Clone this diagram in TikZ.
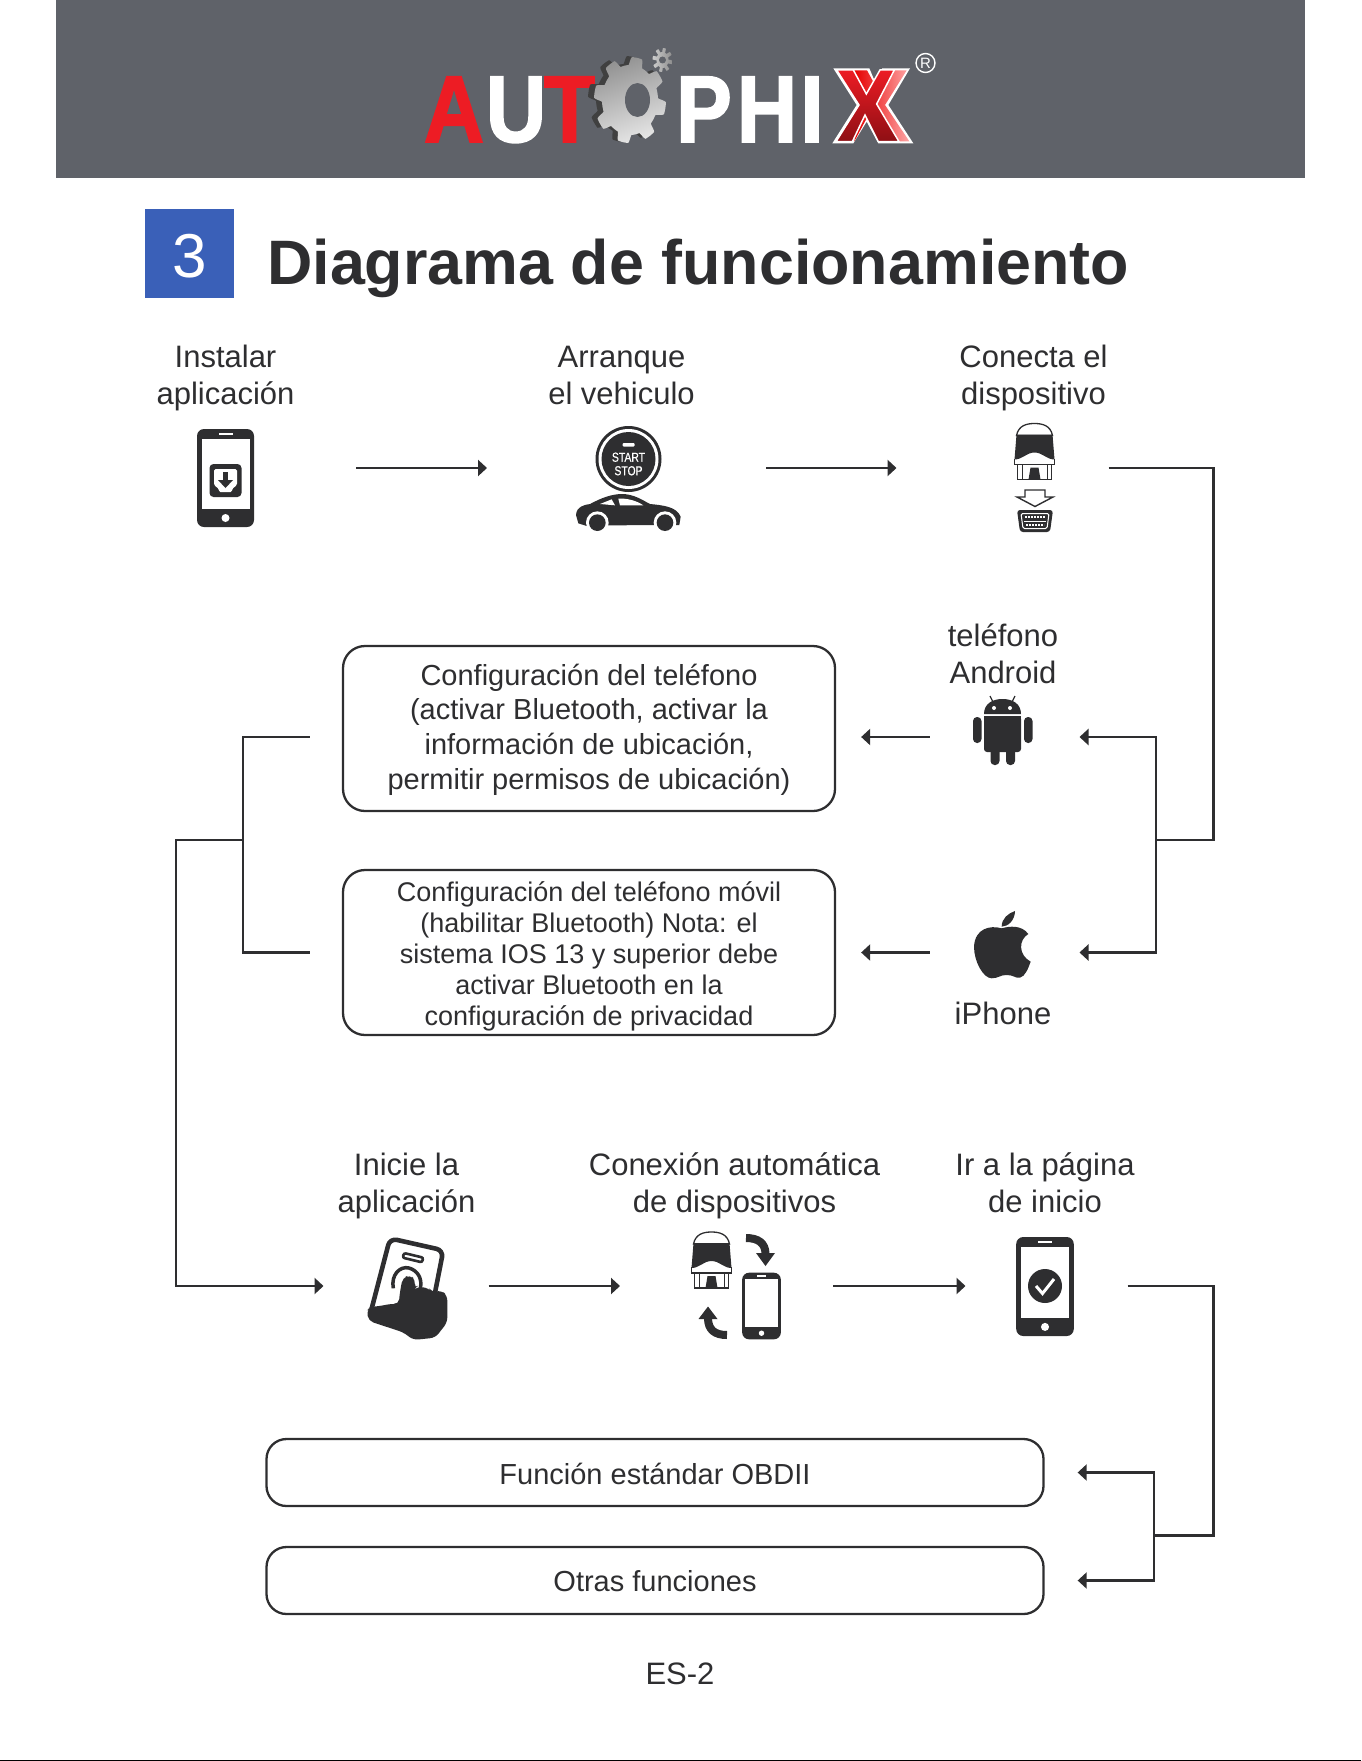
\documentclass[tikz,border=0pt]{standalone}
\usepackage{fontspec}
\setmainfont{Liberation Sans}
\newfontfamily\logofont[FakeStretch=0.88,FakeBold=1.6]{Liberation Sans}
\newfontfamily\narrowfont[FakeStretch=0.8,FakeBold=0.6]{Liberation Sans}
\usetikzlibrary{arrows.meta,calc}
\definecolor{ink}{HTML}{2E2E30}
\definecolor{headergray}{HTML}{5F6269}
\definecolor{squareblue}{HTML}{3A60B8}
\definecolor{logored}{HTML}{ED1C24}
\definecolor{darkred}{HTML}{8E0F14}
\begin{document}
\begin{tikzpicture}[
    x=1pt, y=-1pt,
    caption/.style={align=center, text=ink, inner sep=0, font=\fontsize{31}{37}\selectfont},
    roundbox/.style={rectangle, rounded corners=22pt, draw=ink, line width=2.3pt, align=center,
                     text=ink, inner sep=0, minimum width=492pt, minimum height=165pt},
    wide/.style={roundbox, rounded corners=20pt, minimum width=777pt, minimum height=67pt,
                 font=\fontsize{29}{35}\selectfont},
    slot/.style={rectangle, inner sep=0, outer sep=0, minimum height=30pt},
    wire/.style={draw=ink, line width=2.4pt},
    arrow/.style={wire, -{Triangle[length=9pt,width=16pt]}},
    logoletter/.style={anchor=base, inner sep=0, font=\logofont\bfseries\fontsize{95}{95}\selectfont},
    phone/.pic={
        \fill[ink, rounded corners=7pt] (-28.5,-49) rectangle (28.5,49);
        \fill[white] (-24,-39) rectangle (24,31);
        \fill[white] (-7,-45) rectangle (7,-43);
        \fill[white] (0,40) circle (4);
    },
    dongle/.pic={
        \filldraw[fill=white, draw=ink, line width=1.3pt] (-18,-16) .. controls (-16,-26) and (-8,-28) .. (0,-28)
            .. controls (8,-28) and (16,-26) .. (18,-16) -- cycle;
        \fill[ink] (-18,-17) -- (18,-17) -- (20,8) .. controls (12,8) and (8,1) .. (0,1)
            .. controls (-8,1) and (-12,8) .. (-20,8) -- cycle;
        \draw[ink, line width=1.3pt] (-20,7) -- (-20,13) -- (20,13) -- (20,7);
        \draw[ink, line width=1.3pt] (-17,13) -- (-17,28) -- (17,28) -- (17,13);
        \draw[ink, line width=1pt] (-12.5,13) -- (-12.5,28) (12.5,13) -- (12.5,28);
        \fill[ink] (-4,16) -- (4,16) -- (6,28) -- (-6,28) -- cycle;
    },
]
\useasboundingbox (0,0) rectangle (1361,1761);

% Cabecera
\fill[headergray] (56,0) rectangle (1305,178);
\node[logoletter, text=logored] (logoA) at (454,142) {A};
\node[logoletter, text=white] (logoU) at (516,142) {U};
\node[logoletter, text=logored] (logoT) at (569.5,142) {T};
\node[logoletter, text=white] (logoP) at (704,142) {P};
\node[logoletter, text=white] (logoH) at (767,142) {H};
\node[logoletter, text=white] (logoI) at (812,142) {I};

% Engranajes
\fill[black!75] plot[domain=0:360, samples=241, variable=\t]
    ({625+cos(\t)*(33+4*max(-1,min(1,3*sin(8*\t))))}, {99+sin(\t)*(39+4*max(-1,min(1,3*sin(8*\t))))}) -- cycle;
\shade[left color=gray!85, right color=white!90!black, shading angle=20] plot[domain=0:360, samples=241, variable=\t]
    ({630+cos(\t)*(32+4*max(-1,min(1,3*sin(8*\t))))}, {100+sin(\t)*(39+4*max(-1,min(1,3*sin(8*\t))))}) -- cycle;
\fill[headergray] (637.5,100) ellipse (12.5 and 17);
\shade[left color=gray!40, right color=gray!90] plot[domain=0:360, samples=145, variable=\t]
    ({662.5+cos(\t)*(8+2*max(-1,min(1,3*sin(8*\t))))}, {60+sin(\t)*(10+2*max(-1,min(1,3*sin(8*\t))))}) -- cycle;
\fill[headergray] (662.5,60) circle (3.5);

% X del logotipo
\begin{scope}[shift={(825,50)}, x=0.3333pt, y=-0.3333pt]
    \fill[white] (25,55) -- (133,55) -- (150,95) -- (172,55) -- (255,55) -- (190,165) -- (265,280)
        -- (160,280) -- (125,215) -- (85,280) -- (22,280) -- (95,165) -- cycle;
    \shade[left color=red!90!black, right color=red!35!white] (88,61) -- (126,61) -- (150,105) -- (178,61) -- (245,61) -- (180,165) -- (253,274)
        -- (165,274) -- (125,205) -- (88,274) -- (100,165) -- cycle;
    \shade[top color=logored, bottom color=darkred, draw=white, line width=1.5pt]
        (35,60) -- (85,60) -- (124,132) -- (165,60) -- (208,60) -- (155,162) -- (222,275) -- (160,275)
        -- (120,195) -- (82,275) -- (33,275) -- (102,165) -- cycle;
\end{scope}
\node[circle, draw=white, line width=1.4pt, text=white, inner sep=0, minimum size=19pt,
      font=\fontsize{15}{15}\selectfont] (regmark) at (925.5,63) {R};

% Titulo
\node[fill=squareblue, text=white, inner sep=0, minimum size=89pt] (num) at (189.5,253.5) {};
\node[text=white, inner sep=0, font=\fontsize{62}{62}\selectfont] (numtext) at (189.5,256) {3};
\node[anchor=base west, inner sep=0, text=ink,
      font=\bfseries\fontsize{62.8}{62.8}\selectfont] (title) at (267,284) {Diagrama de funcionamiento};

% Fila superior
\node[caption] (capinstall) at (225.5,378) {Instalar\\aplicación};
\node[caption] (capstart) at (621.5,375.5) {Arranque\\el vehiculo};
\node[caption] (capdevice) at (1033.5,378) {Conecta el\\dispositivo};
\node[slot, minimum width=206pt] (install) at (253,468) {};
\node[slot, minimum width=279pt] (start) at (626.5,468) {};
\node[slot, minimum width=212pt] (device) at (1002.5,468) {};

% Icono de instalar
\pic at (225.5,478) {phone};
\fill[ink, rounded corners=4pt] (209.5,464) rectangle (241.5,497);
\fill[white, rounded corners=1.5pt] (214,469) -- (237,469) -- (237,485) -- (232,489) -- (232,492) -- (219,492)
    -- (219,489) -- (214,485) -- cycle;
\fill[ink] (223,472) rectangle (228,481);
\fill[ink] (218,480) -- (233,480) -- (225.5,488) -- cycle;

% Icono de arranque
\fill[ink] (628.5,459) circle (33);
\fill[white] (628.5,459) circle (30);
\fill[ink] (628.5,459) circle (27);
\fill[white, rounded corners=1pt] (622.5,443) rectangle (634.5,446.5);
\node[text=white, align=center, inner sep=0, font=\narrowfont\fontsize{13}{13.5}\selectfont] (startstop) at (628.5,464) {START\\STOP};
\begin{scope}[shift={(570,490)}, x=0.3333pt, y=-0.3333pt]
    \fill[ink] (18,75) .. controls (20,50) and (40,45) .. (60,42) .. controls (80,32) and (110,15) .. (150,12)
        .. controls (190,10) and (220,32) .. (240,42) .. controls (280,46) and (320,50) .. (332,80)
        -- (328,105) -- (115,106) -- (50,108) -- (25,100) -- cycle;
    \fill[white] (90,42) -- (125,28) -- (135,46) -- cycle;
    \fill[white] (145,26) .. controls (170,24) and (200,32) .. (220,46) -- (150,46) -- cycle;
    \foreach \wx in {82,285} {
        \fill[white] (\wx,98) circle (34);
        \fill[ink] (\wx,98) circle (25);
    }
\end{scope}

% Icono del dispositivo
\pic at (1034.5,451.5) {dongle};
\draw[ink, line width=1.4pt, fill=white] (1025,490) -- (1045,490) -- (1045,497) -- (1053,497) -- (1035,506.5)
    -- (1017,497) -- (1025,497) -- cycle;
\fill[ink, rounded corners=3pt] (1017,510) -- (1053,510) -- (1050,532) -- (1020,532) -- cycle;
\draw[white, line width=1pt, rounded corners=1.5pt] (1021,513.5) -- (1049,513.5) -- (1047,528.5) -- (1023,528.5) -- cycle;
\draw[white, line width=1.2pt, dash pattern=on 2pt off 1pt] (1025,517) -- (1045,517) (1026,525) -- (1044,525);
\draw[white, line width=1pt] (1024,521) -- (1046,521);

% Fila de Android y iPhone
\node[caption] (capandroid) at (1003,653.5) {teléfono\\Android};
\node[caption] (capiphone) at (1003,1013) {iPhone};
\node[slot, minimum width=150pt] (android) at (1004.5,737) {};
\node[slot, minimum width=150pt] (iphone) at (1004.5,952.5) {};
\node[roundbox, font=\fontsize{29}{34.8}\selectfont] (cfgandroid) at (589,728.5)
    {\rule{0pt}{23.6pt}Configuración del teléfono\\(activar Bluetooth, activar la\\información de ubicación,\\permitir permisos de ubicación)};
\node[roundbox, font=\fontsize{27}{31}\selectfont] (cfgiphone) at (589,952.5)
    {\rule{0pt}{28pt}Configuración del teléfono móvil\\(habilitar Bluetooth) Nota: el\\sistema IOS 13 y superior debe\\activar Bluetooth en la\\configuración de privacidad};

% Icono de Android
\fill[ink] (984,714) .. controls (984,704) and (992,699) .. (1002.5,699) .. controls (1013,699) and (1021,704) .. (1021,714) -- cycle;
\fill[ink, rounded corners=3pt] (984,716) rectangle (1021,752);
\fill[ink] (984,716) rectangle (1021,730);
\draw[ink, line width=1.2pt] (993,702) -- (990,696) (1012,702) -- (1015,696);
\fill[white] (994,708) circle (2) (1010,708) circle (2);
\foreach \ax in {973,1024} { \fill[ink, rounded corners=4pt] (\ax,717) rectangle ++(8.5,26); }
\foreach \lx in {990.5,1006} { \fill[ink, rounded corners=4pt] (\lx,745) rectangle ++(9,20); }

% Icono de Apple
\begin{scope}[shift={(900,680)}, x=0.3333pt, y=-0.3333pt]
    \fill[ink] (305,745) .. controls (270,735) and (225,745) .. (222,800) .. controls (222,845) and (250,895) .. (275,895)
        .. controls (295,895) and (300,885) .. (320,885) .. controls (340,885) and (345,895) .. (360,893)
        .. controls (375,890) and (385,865) .. (392,845) .. controls (355,825) and (355,780) .. (385,762)
        .. controls (365,735) and (330,738) .. (305,745) -- cycle;
    \fill[ink] (305,740) .. controls (305,715) and (325,700) .. (345,693) .. controls (345,720) and (325,740) .. (305,740) -- cycle;
\end{scope}

% Fila inferior
\node[caption] (caplaunch) at (406.5,1185.5) {Inicie la\\aplicación};
\node[caption] (capconnect) at (734.5,1185.5) {Conexión automática\\de dispositivos};
\node[caption] (caphome) at (1045,1183) {Ir a la página\\de inicio};
\node[slot, minimum width=165pt] (launch) at (406,1286) {};
\node[slot, minimum width=213pt] (connect) at (726.5,1286) {};
\node[slot, minimum width=162pt] (home) at (1046.5,1286) {};

% Icono de iniciar
\begin{scope}[shift={(360,1225)}, x=0.3333pt, y=-0.3333pt]
    \draw[ink, line width=4.6pt, fill=white, rounded corners=7pt] (90,40) -- (250,76) -- (208,290) -- (30,270) -- cycle;
    \draw[ink, line width=2.6pt, rounded corners=2pt] (132,84) -- (190,98) -- (186,112) -- (128,98) -- cycle;
    \draw[ink, line width=3.5pt] (100,190) .. controls (92,150) and (120,122) .. (147,129) .. controls (172,136) and (188,160) .. (181,190);
    \fill[ink, rounded corners=5pt] (20,258) -- (26,288) -- (130,322) -- (160,345) -- (226,338) -- (262,292) -- (262,212)
        -- (244,196) -- (215,202) -- (205,188) -- (170,186) -- (163,192) -- (167,165) -- (150,150) -- (128,158)
        -- (120,200) -- (116,238) -- (95,236) -- (60,243) -- (30,246) -- cycle;
\end{scope}

% Icono de conexion
\pic at (711.5,1260) {dongle};
\pic[scale=0.68] at (761.5,1306) {phone};
\draw[ink, line width=8pt] (746,1238) .. controls (758,1238) and (765.5,1243) .. (765.5,1254);
\fill[ink] (756,1253) -- (775,1253) -- (765.5,1266) -- cycle;
\draw[ink, line width=8pt] (727,1335) .. controls (715,1335) and (708,1330) .. (708,1318);
\fill[ink] (698.5,1319) -- (717.5,1319) -- (708,1306.5) -- cycle;

% Icono de inicio
\pic[scale=1.01] at (1045,1286.5) {phone};
\fill[ink] (1045,1286) circle (17);
\draw[white, line width=3pt] (1036,1286) -- (1042.5,1293.5) -- (1054,1279);

% Funciones
\node[wide] (standard) at (655,1472.5) {\rule{0pt}{25pt}Función estándar OBDII};
\node[wide] (others) at (655,1580.5) {\rule{0pt}{22.5pt}Otras funciones};

% Pie
\node[inner sep=0, text=ink, font=\fontsize{31}{31}\selectfont] (pagenum) at (680,1673.5) {ES-2};
\fill[black] (0,1759.5) rectangle (1361,1761);

% Puntos de giro
\coordinate (turnright) at (1213.5,840);
\coordinate (splitright) at (1156,840);
\coordinate (splitleft) at (243,840);
\coordinate (turnleft) at (176,840);
\coordinate (turndown) at (1213.5,1535.5);
\coordinate (splitdown) at (1154,1535.5);

% Conectores
\draw[arrow] (install) -- (start);
\draw[arrow] (start) -- (device);
\draw[wire] (device) -| (turnright) -- (splitright);
\draw[arrow] (splitright) |- (android);
\draw[arrow] (splitright) |- (iphone);
\draw[arrow, shorten >=25pt] (android) -- (android -| cfgandroid.east);
\draw[arrow, shorten >=25pt] (iphone) -- (iphone -| cfgiphone.east);
\foreach \src in {android,iphone} {
    \draw[wire, shorten <=32pt] (\src -| cfgandroid.west) -| (splitleft);
}
\draw[arrow] (splitleft) -- (turnleft) |- (launch);
\draw[arrow] (launch) -- (connect);
\draw[arrow] (connect) -- (home);
\draw[wire] (home) -| (turndown) -- (splitdown);
\draw[arrow, shorten >=33pt] (splitdown) |- (standard);
\draw[arrow, shorten >=33pt] (splitdown) |- (others);

\end{tikzpicture}
\end{document}
